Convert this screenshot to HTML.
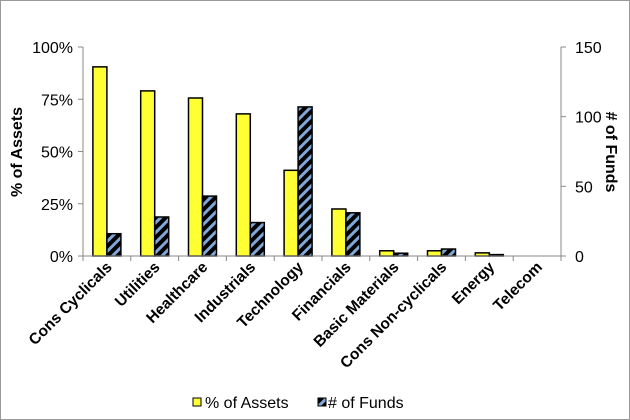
<!DOCTYPE html>
<html><head><meta charset="utf-8"><style>
html,body{margin:0;padding:0;background:#fff}
svg{display:block;font-family:"Liberation Sans",Arial,sans-serif}
</style></head><body>
<svg id="chart" width="630" height="420" viewBox="0 0 630 420">
<defs>
<pattern id="hatch" patternUnits="userSpaceOnUse" width="7" height="7" patternTransform="rotate(45)">
<rect width="7" height="7" fill="#000"/>
<rect x="0" y="0" width="3" height="7" fill="#7fa8d8"/>
</pattern>
</defs>
<rect x="0.5" y="0.5" width="629" height="419" fill="#fff" stroke="#999" stroke-width="1"/>
<g id="bars"></g>
<g id="axes"></g>
<text x="0" y="0" transform="translate(22,152) rotate(-90)" text-anchor="middle" font-size="16" font-weight="bold">% of Assets</text>
<text x="0" y="0" transform="translate(606,152) rotate(90)" text-anchor="middle" font-size="16" font-weight="bold"># of Funds</text>
<g>
<g>
<rect x="193" y="398" width="8" height="8" fill="#ffff33" stroke="#000"/>
<text x="205" y="408" font-size="16">% of Assets</text></g>
<g>
<rect x="318" y="398" width="8" height="8" fill="url(#hatch)" stroke="#000"/>
<text x="328" y="408" font-size="16"># of Funds</text></g>
</g>
</svg>
<script>
const categories=["Cons Cyclicals","Utilities","Healthcare","Industrials","Technology","Financials","Basic Materials","Cons Non-cyclicals","Energy","Telecom"];
const pctAssets=[90.5,79,75.6,68,41,22.5,2.5,2.5,1.5,0];
const numFunds=[16,28,43,24,107,31,2,5,1,0];
const leftTicks=["0%","25%","50%","75%","100%"];
const rightTicks=["0","50","100","150"];
const NS="http://www.w3.org/2000/svg";
const X0=83,X1=561,Y0=256,Y1=47;
const band=(X1-X0)/categories.length;
const yL=v=>Y0-(v/100)*(Y0-Y1);
const yR=v=>Y0-(v/150)*(Y0-Y1);
function mk(t,a){const e=document.createElementNS(NS,t);for(const k in a)e.setAttribute(k,a[k]);return e;}
const bars=document.getElementById('bars'),axes=document.getElementById('axes');
categories.forEach((c,i)=>{
  const cx=X0+band*(i+0.5);
  if(pctAssets[i]>0){const r=mk('rect',{x:cx-14,y:yL(pctAssets[i]),width:14,height:Y0-yL(pctAssets[i]),fill:'#ffff33',stroke:'#000','stroke-width':1.5});
  
  bars.appendChild(r);}
  if(numFunds[i]>0){const r=mk('rect',{x:cx,y:yR(numFunds[i]),width:14,height:Y0-yR(numFunds[i]),fill:'url(#hatch)',stroke:'#000','stroke-width':1.5});
  
  bars.appendChild(r);}
  const t=mk('text',{transform:`translate(${cx+6},268) rotate(-45)`,'text-anchor':'end','font-size':15.5,'font-weight':'bold'});
  t.textContent=c;
  
  axes.appendChild(t);
});
axes.appendChild(mk('line',{x1:X0,y1:Y1,x2:X0,y2:Y0,stroke:'#888'}));
axes.appendChild(mk('line',{x1:X1,y1:Y1,x2:X1,y2:Y0,stroke:'#888'}));
axes.appendChild(mk('line',{x1:X0,y1:Y0,x2:X1,y2:Y0,stroke:'#888'}));
for(let i=0;i<=categories.length;i++){axes.appendChild(mk('line',{x1:X0+band*i,y1:Y0,x2:X0+band*i,y2:Y0+5,stroke:'#888'}));}
leftTicks.forEach((l,i)=>{const y=yL(i*25);
  axes.appendChild(mk('line',{x1:X0-5,y1:y,x2:X0,y2:y,stroke:'#888'}));
  const t=mk('text',{x:X0-10,y:y+6,'text-anchor':'end','font-size':16});t.textContent=l;
  
  axes.appendChild(t);});
rightTicks.forEach((l,i)=>{const y=yR(i*50);
  axes.appendChild(mk('line',{x1:X1,y1:y,x2:X1+5,y2:y,stroke:'#888'}));
  const t=mk('text',{x:X1+14,y:y+6,'text-anchor':'start','font-size':16});t.textContent=l;
  
  axes.appendChild(t);});
</script>
</body></html>
